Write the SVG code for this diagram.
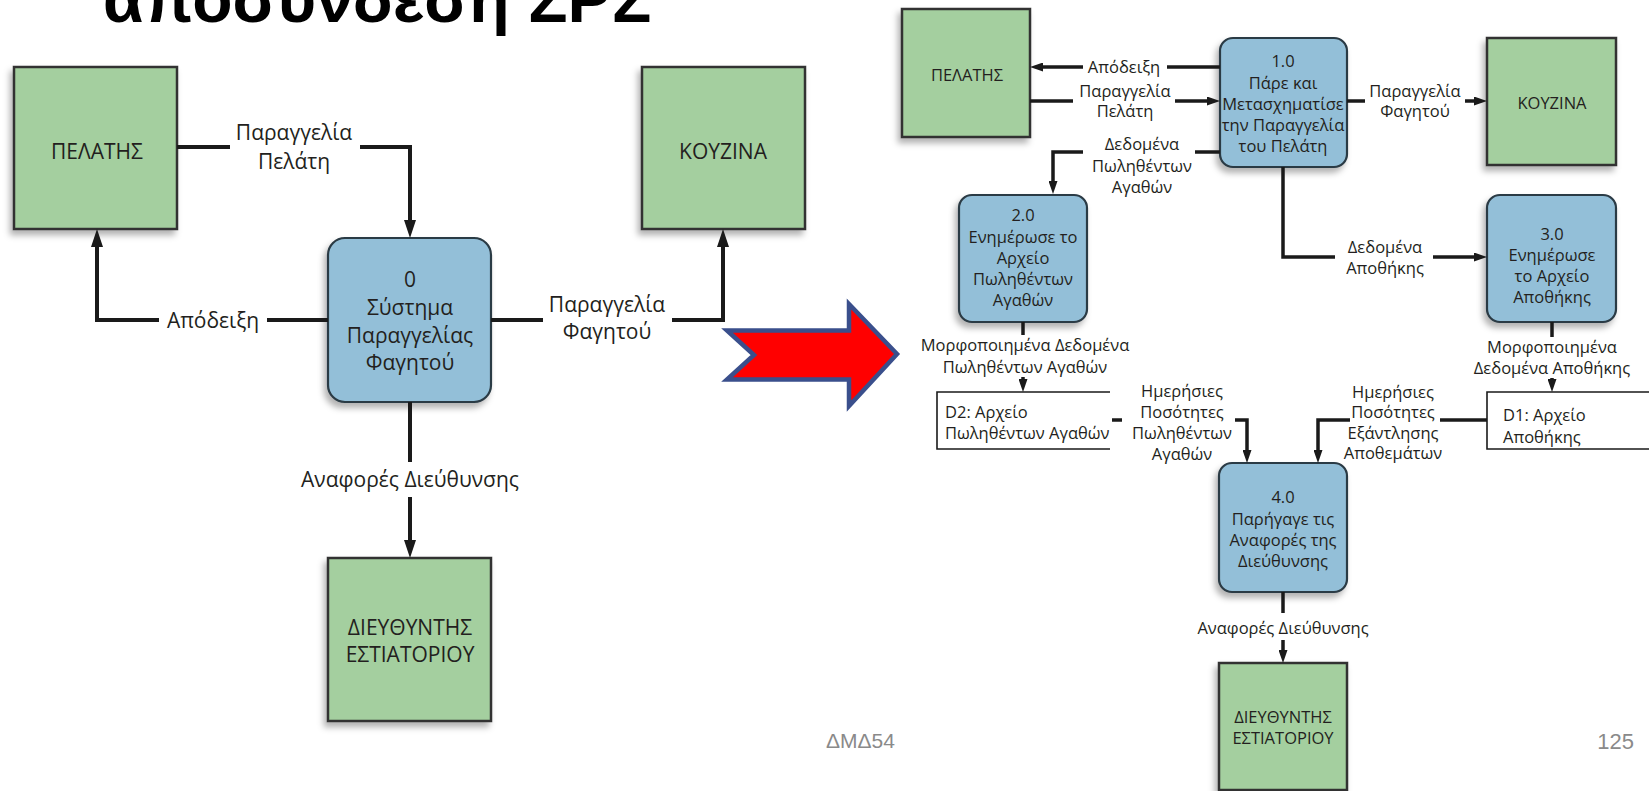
<svg xmlns="http://www.w3.org/2000/svg" width="1649" height="791" viewBox="0 0 1649 791">
  <defs>
    <filter id="shadow" x="-20%" y="-20%" width="140%" height="140%">
      <feDropShadow dx="-3" dy="5" stdDeviation="3" flood-color="#000" flood-opacity="0.3"/>
    </filter>
    <marker id="headL" markerUnits="userSpaceOnUse" markerWidth="18" markerHeight="12" viewBox="0 0 18 12" refX="10" refY="6" orient="auto">
      <path d="M0,0 L18,6 L0,12 Z" fill="#1a1a1a"/>
    </marker>
    <marker id="headR" markerUnits="userSpaceOnUse" markerWidth="13" markerHeight="9" viewBox="0 0 13 9" refX="7" refY="4.5" orient="auto">
      <path d="M0,0 L13,4.5 L0,9 Z" fill="#1a1a1a"/>
    </marker>
  </defs>
  <style>
    .ext { fill: #a4cf9f; stroke: #333; stroke-width: 2.5; filter: url(#shadow); }
    .proc { fill: #93bfd8; stroke: #2b3a44; stroke-width: 2.2; filter: url(#shadow); }
    .store { fill: none; stroke: #1a1a1a; stroke-width: 1.6; }
    .lblL { font-family: "Open Sans", "Liberation Sans", sans-serif; font-size: 21px; fill: #231f20; text-anchor: middle; }
    .lblR { font-family: "Open Sans", "Liberation Sans", sans-serif; font-size: 16.5px; fill: #231f20; text-anchor: middle; }
    .start { text-anchor: start; }
    .lineL { fill: none; stroke: #1a1a1a; stroke-width: 4; }
    .lineR { fill: none; stroke: #1a1a1a; stroke-width: 3.5; }
    .arrL { marker-end: url(#headL); }
    .arrR { marker-end: url(#headR); }
    .foot { font-family: "Liberation Sans", Arial, sans-serif; fill: #8a8a8a; }
  </style>

  <!-- slide title, partly above the top edge -->
  <text x="103" y="22" font-family="Liberation Sans, Arial, sans-serif" font-weight="bold" font-size="66" fill="#000">αποσύνδεση ΣΡΣ</text>

  <!-- ===== Context diagram (level 0) ===== -->
  <g id="ctx-customer">
    <rect class="ext" x="14" y="67" width="163" height="162"/>
    <text class="lblL" x="97" y="159">ΠΕΛΑΤΗΣ</text>
  </g>
  <g id="ctx-kitchen">
    <rect class="ext" x="642" y="67" width="163" height="162"/>
    <text class="lblL" x="723" y="159">ΚΟΥΖΙΝΑ</text>
  </g>
  <g id="ctx-system">
    <rect class="proc" x="328" y="238" width="163" height="164" rx="17"/>
    <text class="lblL" x="410" y="287">0</text>
    <text class="lblL" x="410" y="315">Σύστημα</text>
    <text class="lblL" x="410" y="343">Παραγγελίας</text>
    <text class="lblL" x="410" y="370">Φαγητού</text>
  </g>
  <g id="ctx-manager">
    <rect class="ext" x="328" y="558" width="163" height="163"/>
    <text class="lblL" x="410" y="635">ΔΙΕΥΘΥΝΤΗΣ</text>
    <text class="lblL" x="410" y="662">ΕΣΤΙΑΤΟΡΙΟΥ</text>
  </g>

  <g id="ctx-flows">
    <path class="lineL" d="M177,147 H230"/>
    <path class="lineL arrL" d="M360,147 H410 V230"/>
    <text class="lblL" x="294" y="140">Παραγγελία</text>
    <text class="lblL" x="294" y="169">Πελάτη</text>

    <path class="lineL" d="M328,320 H267"/>
    <path class="lineL arrL" d="M159,320 H97 V237"/>
    <text class="lblL" x="213" y="328">Απόδειξη</text>

    <path class="lineL" d="M491,320 H543"/>
    <path class="lineL arrL" d="M672,320 H723 V237"/>
    <text class="lblL" x="607" y="312">Παραγγελία</text>
    <text class="lblL" x="607" y="339">Φαγητού</text>

    <path class="lineL" d="M410,402 V462"/>
    <path class="lineL arrL" d="M410,497 V550"/>
    <text class="lblL" x="410" y="487">Αναφορές Διεύθυνσης</text>
  </g>

  <!-- decomposition arrow -->
  <g id="decompose-arrow">
    <polygon points="727,330.5 849,330.5 849,304 897,354 849,406 849,379.5 727,379.5 754,355" fill="#ff0000" stroke="#3a4f8c" stroke-width="4.5" stroke-linejoin="miter"/>
  </g>

  <!-- ===== Level 1 diagram ===== -->
  <g id="d1-customer">
    <rect class="ext" x="902" y="9" width="128" height="128"/>
    <text class="lblR" x="967" y="81">ΠΕΛΑΤΗΣ</text>
  </g>
  <g id="d1-kitchen">
    <rect class="ext" x="1487" y="38" width="129" height="127"/>
    <text class="lblR" x="1552" y="109">ΚΟΥΖΙΝΑ</text>
  </g>
  <g id="p1">
    <rect class="proc" x="1220" y="38" width="127" height="129" rx="13"/>
    <text class="lblR" x="1283" y="67">1.0</text>
    <text class="lblR" x="1283" y="89">Πάρε και</text>
    <text class="lblR" x="1283" y="110">Μετασχηματίσε</text>
    <text class="lblR" x="1283" y="131">την Παραγγελία</text>
    <text class="lblR" x="1283" y="152">του Πελάτη</text>
  </g>
  <g id="p2">
    <rect class="proc" x="959" y="195" width="128" height="127" rx="13"/>
    <text class="lblR" x="1023" y="221">2.0</text>
    <text class="lblR" x="1023" y="243">Ενημέρωσε το</text>
    <text class="lblR" x="1023" y="264">Αρχείο</text>
    <text class="lblR" x="1023" y="285">Πωληθέντων</text>
    <text class="lblR" x="1023" y="306">Αγαθών</text>
  </g>
  <g id="p3">
    <rect class="proc" x="1487" y="195" width="129" height="127" rx="13"/>
    <text class="lblR" x="1552" y="240">3.0</text>
    <text class="lblR" x="1552" y="261">Ενημέρωσε</text>
    <text class="lblR" x="1552" y="282">το Αρχείο</text>
    <text class="lblR" x="1552" y="303">Αποθήκης</text>
  </g>
  <g id="store-d2">
    <path class="store" d="M1110,392 H937 V449 H1110" fill="#fff"/>
    <text class="lblR start" x="945" y="418">D2: Αρχείο</text>
    <text class="lblR start" x="945" y="439">Πωληθέντων Αγαθών</text>
  </g>
  <g id="store-d1">
    <path class="store" d="M1649,392 H1487 V449 H1649"/>
    <text class="lblR start" x="1503" y="421">D1: Αρχείο</text>
    <text class="lblR start" x="1503" y="443">Αποθήκης</text>
  </g>
  <g id="p4">
    <rect class="proc" x="1219" y="463" width="128" height="129" rx="13"/>
    <text class="lblR" x="1283" y="503">4.0</text>
    <text class="lblR" x="1283" y="525">Παρήγαγε τις</text>
    <text class="lblR" x="1283" y="546">Αναφορές της</text>
    <text class="lblR" x="1283" y="567">Διεύθυνσης</text>
  </g>
  <g id="d1-manager">
    <rect class="ext" x="1219" y="663" width="128" height="127"/>
    <text class="lblR" x="1283" y="723">ΔΙΕΥΘΥΝΤΗΣ</text>
    <text class="lblR" x="1283" y="744">ΕΣΤΙΑΤΟΡΙΟΥ</text>
  </g>

  <g id="d1-flows">
    <path class="lineR" d="M1220,67 H1167"/>
    <path class="lineR arrR" d="M1083,67 H1036"/>
    <text class="lblR" x="1124" y="73">Απόδειξη</text>

    <path class="lineR" d="M1030,101 H1073"/>
    <path class="lineR arrR" d="M1175,101 H1214"/>
    <text class="lblR" x="1125" y="97">Παραγγελία</text>
    <text class="lblR" x="1125" y="117">Πελάτη</text>

    <path class="lineR" d="M1347,101 H1365"/>
    <path class="lineR arrR" d="M1465,101 H1481"/>
    <text class="lblR" x="1415" y="97">Παραγγελία</text>
    <text class="lblR" x="1415" y="117">Φαγητού</text>

    <path class="lineR" d="M1220,152 H1195"/>
    <path class="lineR arrR" d="M1083,152 H1053 V188"/>
    <text class="lblR" x="1142" y="150">Δεδομένα</text>
    <text class="lblR" x="1142" y="172">Πωληθέντων</text>
    <text class="lblR" x="1142" y="193">Αγαθών</text>

    <path class="lineR" d="M1283,167 V257 H1335"/>
    <path class="lineR arrR" d="M1433,257 H1481"/>
    <text class="lblR" x="1385" y="253">Δεδομένα</text>
    <text class="lblR" x="1385" y="274">Αποθήκης</text>

    <path class="lineR" d="M1023,322 V335"/>
    <path class="lineR arrR" d="M1023,377 V386"/>
    <text class="lblR" x="1025" y="351">Μορφοποιημένα Δεδομένα</text>
    <text class="lblR" x="1025" y="373">Πωληθέντων Αγαθών</text>

    <path class="lineR" d="M1552,322 V337"/>
    <path class="lineR arrR" d="M1552,378 V386"/>
    <text class="lblR" x="1552" y="353">Μορφοποιημένα</text>
    <text class="lblR" x="1552" y="374">Δεδομένα Αποθήκης</text>

    <path class="lineR" d="M1112,420 H1122"/>
    <path class="lineR arrR" d="M1235,420 H1247 V457"/>
    <text class="lblR" x="1182" y="397">Ημερήσιες</text>
    <text class="lblR" x="1182" y="418">Ποσότητες</text>
    <text class="lblR" x="1182" y="439">Πωληθέντων</text>
    <text class="lblR" x="1182" y="460">Αγαθών</text>

    <path class="lineR" d="M1487,420 H1440"/>
    <path class="lineR arrR" d="M1350,420 H1318 V457"/>
    <text class="lblR" x="1393" y="398">Ημερήσιες</text>
    <text class="lblR" x="1393" y="418">Ποσότητες</text>
    <text class="lblR" x="1393" y="439">Εξάντλησης</text>
    <text class="lblR" x="1393" y="459">Αποθεμάτων</text>

    <path class="lineR" d="M1283,592 V613"/>
    <path class="lineR arrR" d="M1283,640 V657"/>
    <text class="lblR" x="1283" y="634">Αναφορές Διεύθυνσης</text>
  </g>

  <!-- slide footer -->
  <text class="foot" x="826" y="748" font-size="21">ΔΜΔ54</text>
  <text class="foot" x="1634" y="749" font-size="22" text-anchor="end">125</text>
</svg>
